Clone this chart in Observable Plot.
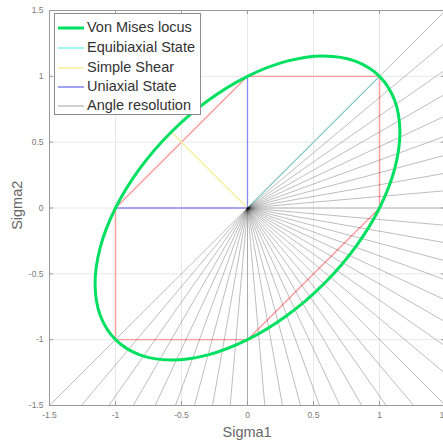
<!DOCTYPE html>
<html><head><meta charset="utf-8">
<script src="https://cdn.jsdelivr.net/npm/d3@7"></script>
<script src="https://cdn.jsdelivr.net/npm/@observablehq/plot@0.6"></script>
<style>
html,body{margin:0;padding:0;background:#fff;overflow:hidden;width:443px;height:443px}
#wrap{position:relative;width:443px;height:443px;overflow:hidden}
#chart{position:absolute;left:0;top:0;width:447px}
#chart svg{max-width:none !important}
#legend{position:absolute;left:54px;top:13px;width:147px;height:102px;border:1px solid #8c8c8c;background:#fff;box-sizing:border-box;font-family:"Liberation Sans",Arial,sans-serif;font-size:14.5px;color:#333}
.row{position:absolute;left:0;width:100%;height:18px}
.swatch{position:absolute;left:3px;top:6px}
.lab{position:absolute;left:32px;top:50%;transform:translateY(-52%);white-space:nowrap;line-height:1}
.axlab{position:absolute;font-family:"Liberation Sans",Arial,sans-serif;font-size:14.5px;color:#666;white-space:nowrap;line-height:1}
</style>
</head><body>
<div id="wrap"><div id="chart"></div><div id="legend"></div>
<div class="axlab" id="xl">Sigma1</div><div class="axlab" id="yl">Sigma2</div></div>
<script>
// ---- data ----
const tickValues = [-1.5, -1, -0.5, 0, 0.5, 1, 1.5];
// Von Mises locus points (Sigma1, Sigma2)
const misesS1 = [1, 0.8165, 0.5774, 0.2989, 0, -0.2989, -0.5774, -0.8165, -1, -1.1154, -1.1547, -1.1154, -1, -0.8165, -0.5774, -0.2989, 0, 0.2989, 0.5774, 0.8165, 1, 1.1154, 1.1547, 1.1154];
const misesS2 = [1, 1.1154, 1.1547, 1.1154, 1, 0.8165, 0.5774, 0.2989, 0, -0.2989, -0.5774, -0.8165, -1, -1.1154, -1.1547, -1.1154, -1, -0.8165, -0.5774, -0.2989, 0, 0.2989, 0.5774, 0.8165];
// Tresca hexagon
const trescaS1 = [0, 1, 1, 0, -1, -1, 0];
const trescaS2 = [1, 1, 0, -1, -1, 0, 1];
// Equibiaxial state
const equiS1 = [0, 1];
const equiS2 = [0, 1];
// Simple shear
const shearS1 = [0, -0.5774];
const shearS2 = [0, 0.5774];
// Uniaxial state
const uniS1 = [-1, 0, 0];
const uniS2 = [0, 0, 1];
// Angle resolution rays (degrees)
const rayAngles = [-135, -130, -125, -120, -115, -110, -105, -100, -95, -90, -85, -80, -75, -70, -65, -60, -55, -50, -45, -40, -35, -30, -25, -20, -15, -10, -5, 0, 5, 10, 15, 20, 25, 30, 35, 40, 45];
const rayLength = 3;

const legendLabels = ["Von Mises locus", "Equibiaxial State", "Simple Shear", "Uniaxial State", "Angle resolution"];
const legendColors = ["#00e060", "#80f4ec", "#f8f09a", "#8484f0", "#c0c0c0"];
const legendWidths = [3, 1.5, 1.5, 1.5, 1.5];

const pts = (a, b) => a.map((v, i) => ({s1: v, s2: b[i]}));
const mises = pts(misesS1, misesS2);
const tresca = pts(trescaS1, trescaS2);
const equi = pts(equiS1, equiS2);
const shear = pts(shearS1, shearS2);
const uni = pts(uniS1, uniS2);
const rays = rayAngles.map(a => ({a}));

const tf = d => String(d);
const chart = Plot.plot({
  width: 447, height: 443,
  marginLeft: 49, marginRight: 2, marginTop: 10, marginBottom: 38,
  style: {background: "white", fontFamily: "Liberation Sans, Arial, sans-serif", maxWidth: "none"},
  x: {domain: [-1.5, 1.5], ticks: tickValues, tickFormat: tf},
  y: {domain: [-1.5, 1.5], ticks: tickValues, tickFormat: tf},
  marks: [
    Plot.gridX(tickValues, {stroke: "#e8e8e8", strokeOpacity: 1}),
    Plot.gridY(tickValues, {stroke: "#e8e8e8", strokeOpacity: 1}),
    Plot.line(tresca, {x: "s1", y: "s2", stroke: "#ff9a9a", strokeWidth: 1.4}),
    Plot.line(equi, {x: "s1", y: "s2", stroke: "#a8f2ec", strokeWidth: 1.4}),
    Plot.line(shear, {x: "s1", y: "s2", stroke: "#f7f0a0", strokeWidth: 1.4}),
    Plot.line(uni, {x: "s1", y: "s2", stroke: "#8a8af0", strokeWidth: 1.3}),
    Plot.link(rays, {
      x1: () => 0, y1: () => 0,
      x2: d => rayLength * Math.cos(d.a * Math.PI / 180),
      y2: d => rayLength * Math.sin(d.a * Math.PI / 180),
      stroke: "#000", strokeOpacity: 0.26, strokeWidth: 1, clip: true
    }),
    Plot.line(mises, {x: "s1", y: "s2", curve: "catmull-rom-closed", stroke: "#00e060", strokeWidth: 3}),
    Plot.frame({stroke: "#9a9a9a"}),
    Plot.ruleX(tickValues, {x: d => d, y1: -1.5, y2: -1.5, insetBottom: 4, stroke: "#9a9a9a"}),
    Plot.ruleX(tickValues, {x: d => d, y1: 1.5, y2: 1.5, insetBottom: -4, stroke: "#9a9a9a"}),
    Plot.ruleY(tickValues, {y: d => d, x1: -1.5, x2: -1.5, insetRight: -4, stroke: "#9a9a9a"}),
    Plot.ruleY(tickValues, {y: d => d, x1: 1.5, x2: 1.5, insetRight: 4, stroke: "#9a9a9a"}),
    Plot.axisX(tickValues, {tickSize: 0, tickPadding: 6, fontSize: 8.5, color: "#7a7a7a", label: null, tickFormat: tf}),
    Plot.axisY(tickValues, {tickSize: 0, tickPadding: 6, fontSize: 8.5, color: "#7a7a7a", label: null, tickFormat: tf})
  ]
});
chart.style.maxWidth = "none";
document.getElementById("chart").appendChild(chart);

// legend
const leg = document.getElementById("legend");
const rowTops = [5, 25, 45, 64, 83];
const NS = "http://www.w3.org/2000/svg";
legendLabels.forEach((t, i) => {
  const r = document.createElement("div");
  r.className = "row";
  r.style.top = rowTops[i] + "px";
  const s = document.createElementNS(NS, "svg");
  s.setAttribute("class", "swatch");
  s.setAttribute("width", "26");
  s.setAttribute("height", "6");
  const ln = document.createElementNS(NS, "line");
  ln.setAttribute("x1", "0"); ln.setAttribute("x2", "26");
  ln.setAttribute("y1", "3"); ln.setAttribute("y2", "3");
  ln.setAttribute("stroke", legendColors[i]);
  ln.setAttribute("stroke-width", legendWidths[i]);
  s.appendChild(ln);
  const l = document.createElement("div");
  l.className = "lab";
  l.textContent = t;
  r.appendChild(s); r.appendChild(l);
  leg.appendChild(r);
});

// axis titles
const xl = document.getElementById("xl");
xl.style.left = (247 - xl.offsetWidth / 2) + "px";
xl.style.top = (432 - xl.offsetHeight / 2) + "px";
const yl = document.getElementById("yl");
yl.style.left = (17 - yl.offsetWidth / 2) + "px";
yl.style.top = (205 - yl.offsetHeight / 2) + "px";
yl.style.transform = "rotate(-90deg)";
</script>
</body></html>
